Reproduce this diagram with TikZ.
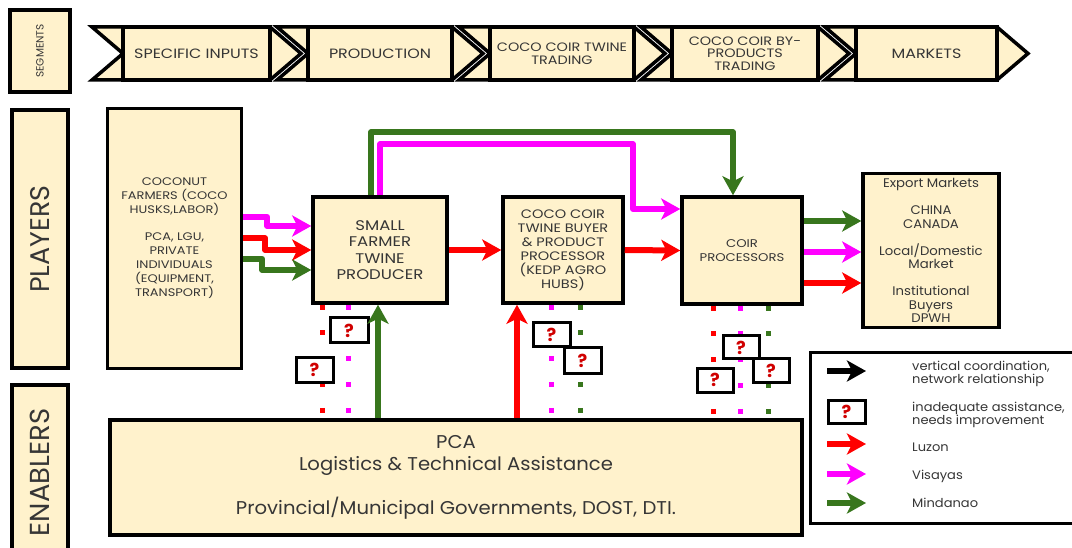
\documentclass[tikz,border=0pt]{standalone}
\usepackage{fontspec}
\setmainfont{Poppins}
\newfontfamily\widefont{Poppins}[FakeStretch=1.18]
\newfontfamily\softfont{Poppins}[FakeStretch=1.06]
\usetikzlibrary{arrows.meta}
\definecolor{cream}{HTML}{FFF2CC}
\definecolor{ink}{HTML}{363636}
\definecolor{luzon}{HTML}{FF0000}
\definecolor{visayas}{HTML}{FF00FF}
\definecolor{mindanao}{HTML}{38761D}
\definecolor{qred}{HTML}{D00000}

\begin{document}
\begin{tikzpicture}[x=1pt,y=-1pt,
  box/.style={draw=black, fill=cream, line width=3.5pt, text=ink, align=center, inner sep=0pt},
  sidebox/.style={box, line width=4pt, rotate=90},
  chev/.style={draw=black, fill=cream, line width=3.5pt, line join=miter},
  segbox/.style={box, font=\widefont\fontsize{13.5}{12.5}\selectfont},
  segsmall/.style={box, font=\widefont\fontsize{12.2}{12.5}\selectfont},
  qbox/.style={draw=black, fill=white, line width=3pt, inner sep=0pt,
    text=qred, font=\fontsize{18}{18}\selectfont\bfseries},
  flow/.style={line width=6pt, line join=round,
    -{Stealth[length=19pt,width=21pt,inset=5pt]}},
  dots/.style={line width=5pt, dash pattern=on 5pt off 20.75pt},
  legtext/.style={anchor=west, align=left, text=ink, inner sep=0pt,
    font=\softfont\fontsize{12.3}{13.5}\selectfont}]

\useasboundingbox (0,0) rectangle (1072,548);
\clip (0,0) rectangle (1072,548);

% ---------- side labels ----------
\node[sidebox, minimum width=82, minimum height=60,
  font=\fontsize{10.5}{10.5}\selectfont] (segL) at (40,51) {SEGMENTS};
\node[sidebox, minimum width=258, minimum height=56,
  font=\fontsize{27}{27}\selectfont] (plyL) at (40,239) {PLAYERS};
\node[sidebox, minimum width=175, minimum height=56,
  font=\fontsize{27.5}{27.5}\selectfont] (enaL) at (40,472.5) {ENABLERS};

% ---------- segment chevrons ----------
\foreach \L/\R in {92/270, 277/452, 459/634, 641/818, 825/997}
  \filldraw[chev] (\L,27) -- (\R,27) -- (\R+31,53.5) -- (\R,80)
    -- (\L,80) -- (\L+31,53.5) -- cycle;

\node[segbox, minimum width=147, minimum height=53] (seg1) at (196.5,53.5) {SPECIFIC INPUTS};
\node[segbox, minimum width=144, minimum height=53] (seg2) at (380,53.5) {PRODUCTION};
\node[segsmall, minimum width=144, minimum height=53] (seg3) at (562,53.5) {COCO COIR TWINE\\TRADING};
\node[segsmall, minimum width=146, minimum height=53] (seg4) at (745,53.5) {COCO COIR BY-\\PRODUCTS\\TRADING};
\node[segbox, minimum width=141, minimum height=53] (seg5) at (926.5,53.5) {MARKETS};

% ---------- players ----------
\node[box, minimum width=134, minimum height=260,
  font=\widefont\fontsize{11}{14}\selectfont] (farm) at (174.5,238.5)
  {COCONUT\\FARMERS (COCO\\HUSKS,LABOR)\\[13pt]PCA, LGU,\\PRIVATE\\INDIVIDUALS\\(EQUIPMENT,\\TRANSPORT)};
\node[box, minimum width=134, minimum height=106,
  font=\widefont\fontsize{14}{16.3}\selectfont] (sfp) at (380,250)
  {SMALL\\FARMER\\TWINE\\PRODUCER};
\node[box, minimum width=120, minimum height=106,
  font=\widefont\fontsize{12.3}{14}\selectfont] (buyer) at (563,250)
  {COCO COIR\\TWINE BUYER\\\& PRODUCT\\PROCESSOR\\(KEDP AGRO\\HUBS)};
\node[box, minimum width=120, minimum height=107,
  font=\widefont\fontsize{11.2}{14}\selectfont] (proc) at (742,250.5)
  {COIR\\PROCESSORS};
\node[box, minimum width=136, minimum height=154,
  font=\softfont\fontsize{12.5}{13.5}\selectfont] (mkt) at (931,250.5)
  {Export Markets\\[13.5pt]CHINA\\CANADA\\[13.5pt]Local/Domestic\\Market\\[13.5pt]Institutional\\Buyers\\DPWH};

% ---------- enablers ----------
\node[box, minimum width=692, minimum height=115,
  font=\softfont\fontsize{18.5}{22}\selectfont] (ena) at (456,477.5)
  {PCA\\Logistics \& Technical Assistance\\[20pt]Provincial/Municipal Governments, DOST, DTI.};

% ---------- weak links (dotted) ----------
\draw[dots, luzon]    ([xshift=-58pt]sfp.south) -- ++(0,114);
\draw[dots, visayas]  ([xshift=-32pt]sfp.south) -- ++(0,114);
\draw[dots, visayas]  ([xshift=-12pt]buyer.south) -- ++(0,114);
\draw[dots, mindanao] ([xshift=17pt]buyer.south) -- ++(0,114);
\draw[dots, luzon]    ([xshift=-29pt]proc.south) -- ++(0,114);
\draw[dots, visayas]  ([xshift=-2pt]proc.south) -- ++(0,114);
\draw[dots, mindanao] ([xshift=26pt]proc.south) -- ++(0,114);

\node[qbox, minimum width=38, minimum height=25] (qA) at (349,330.5) {?};
\node[qbox, minimum width=37, minimum height=24] (qB) at (314.5,370) {?};
\node[qbox, minimum width=37, minimum height=24] (qC) at (551.5,335) {?};
\node[qbox, minimum width=37, minimum height=25] (qD) at (582.5,360.5) {?};
\node[qbox, minimum width=36, minimum height=23] (qE) at (741,347.5) {?};
\node[qbox, minimum width=36, minimum height=23] (qF) at (771,370.5) {?};
\node[qbox, minimum width=36, minimum height=24] (qG) at (715,380) {?};

% ---------- flows ----------
\draw[flow, visayas]  ([yshift=21.5pt]farm.east) -- ++(24,0) |- ([yshift=24pt]sfp.west);
\draw[flow, luzon]    (farm.east) -- ++(22,0) |- (sfp.west);
\draw[flow, mindanao] ([yshift=-20.5pt]farm.east) -- ++(19,0) |- ([yshift=-20pt]sfp.west);

\draw[flow, mindanao] ([xshift=-9pt]sfp.north) -- ++(0,-63) -| ([xshift=-9pt]proc.north);
\draw[flow, visayas]  (sfp.north) -- ++(0,-51) -- ++(253,0) |- ([yshift=41.5pt]proc.west);

\draw[flow, luzon] (sfp.east) -- (buyer.west);
\draw[flow, luzon] (buyer.east) -- (proc.west);

\draw[flow, mindanao] ([yshift=29.5pt]proc.east) -- ([yshift=29.5pt]mkt.west);
\draw[flow, visayas]  ([yshift=-1.5pt]proc.east) -- ([yshift=-1.5pt]mkt.west);
\draw[flow, luzon]    ([yshift=-32.5pt]proc.east) -- ([yshift=-32.5pt]mkt.west);

\draw[flow, mindanao] ([xshift=-78pt]ena.north) -- ([xshift=-2pt]sfp.south);
\draw[flow, luzon]    ([xshift=61pt]ena.north) -- ([xshift=-46pt]buyer.south);

% ---------- legend ----------
\node[draw=black, line width=3pt, fill=white, minimum width=272, minimum height=170,
  inner sep=0pt] (legend) at (946,438) {};
\coordinate (k0) at (827,371);  \coordinate (k1) at (866,371);
\coordinate (r0) at (827,444);  \coordinate (r1) at (866,444);
\coordinate (v0) at (827,474);  \coordinate (v1) at (866,474);
\coordinate (g0) at (827,503);  \coordinate (g1) at (866,503);
\draw[flow, black]    (k0) -- (k1);
\node[qbox, minimum width=37, minimum height=23] (qL) at (846.5,411.5) {?};
\draw[flow, luzon]    (r0) -- (r1);
\draw[flow, visayas]  (v0) -- (v1);
\draw[flow, mindanao] (g0) -- (g1);
\node[legtext] (t1) at (912,374) {vertical coordination,\\network relationship};
\node[legtext] (t2) at (912,415) {inadequate assistance,\\needs improvement};
\node[legtext] (t3) at (912,447) {Luzon};
\node[legtext] (t4) at (912,476) {Visayas};
\node[legtext] (t5) at (912,503) {Mindanao};
\end{tikzpicture}
\end{document}
